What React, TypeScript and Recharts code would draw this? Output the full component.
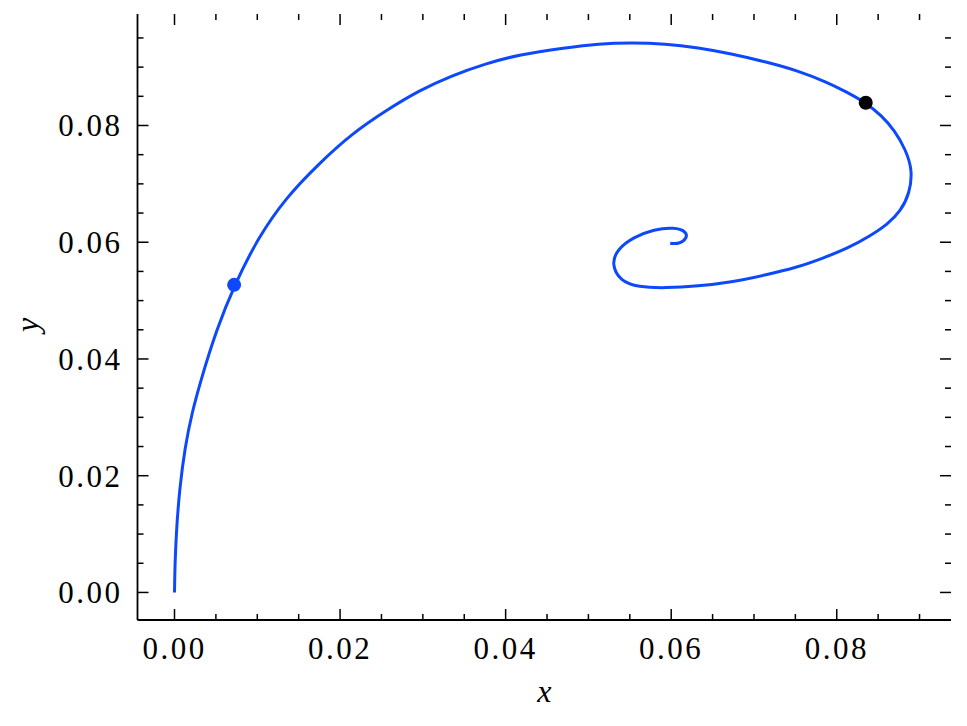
import { ComposedChart, Line, Scatter, XAxis, YAxis } from 'recharts';

// trajectory (x, y)
const curveX = [
  0, 0.00006, 0.00024, 0.0006, 0.00127, 0.00211, 0.00319, 0.00506, 0.00723, 0.01012,
  0.01349, 0.01747, 0.02145, 0.02554, 0.02952, 0.03349, 0.03759, 0.04157, 0.04723, 0.0512,
  0.05518, 0.05928, 0.06325, 0.06723, 0.07133, 0.0753, 0.07892, 0.08108, 0.08349, 0.08542,
  0.08699, 0.08831, 0.08916, 0.0888, 0.08771, 0.08614, 0.08398, 0.08133, 0.07831, 0.0753,
  0.07133, 0.06723, 0.06325, 0.05928, 0.05602, 0.05386, 0.05277, 0.05349, 0.05542, 0.05795,
  0.06036, 0.06181, 0.06193, 0.06096, 0.05988,
];
const curveY = [
  0, 0.00513, 0.01077, 0.01761, 0.02496, 0.03077, 0.03641, 0.04496, 0.05265, 0.06085,
  0.06769, 0.0735, 0.07863, 0.08256, 0.08598, 0.08855, 0.0906, 0.09214, 0.09333, 0.09402,
  0.09419, 0.09402, 0.09333, 0.09231, 0.09094, 0.0894, 0.08735, 0.08581, 0.08393, 0.08171,
  0.07915, 0.0759, 0.07231, 0.06838, 0.0653, 0.06308, 0.06103, 0.05897, 0.05726, 0.05573,
  0.05436, 0.05316, 0.05248, 0.05214, 0.05231, 0.05333, 0.05624, 0.0588, 0.06085, 0.06222,
  0.06256, 0.06188, 0.06068, 0.05966, 0.05983,
];

const blueMarker = [{ x: 0.0072, y: 0.0527 }];
const blackMarker = [{ x: 0.0835, y: 0.0839 }];

const xMajor = [0, 0.02, 0.04, 0.06, 0.08];
const xMinor = [0.005, 0.01, 0.015, 0.025, 0.03, 0.035, 0.045, 0.05, 0.055, 0.065, 0.07, 0.075, 0.085, 0.09];
const yMajor = [0, 0.02, 0.04, 0.06, 0.08];
const yMinor = [0.005, 0.01, 0.015, 0.025, 0.03, 0.035, 0.045, 0.05, 0.055, 0.065, 0.07, 0.075, 0.085, 0.09, 0.095];

const xDomain = [-0.00447, 0.0938];
const yDomain = [-0.00472, 0.0991];

const curve = curveX.map((x, i) => ({ x, y: curveY[i] }));

const BLUE = '#0d49fb';
const FONT = '"Liberation Serif", "Times New Roman", serif';
const PLOT_W = 813.5;
const PLOT_H = 606;
const MAJOR_LEN = 11;
const MINOR_LEN = 6;

const isMajor = (v: number, majors: number[]) => majors.some((m) => Math.abs(m - v) < 1e-9);

const XTick = (props: any) => {
  const { x, y, payload } = props;
  const major = isMajor(payload.value, xMajor);
  const len = major ? MAJOR_LEN : MINOR_LEN;
  return (
    <g>
      <line x1={x} x2={x} y1={y} y2={y - len} stroke="#000" strokeWidth={1.5} />
      <line x1={x} x2={x} y1={y - PLOT_H} y2={y - PLOT_H + len} stroke="#000" strokeWidth={1.5} />
      {major && (
        <text x={x} y={y + 39} textAnchor="middle" fontFamily={FONT} fontSize={31} letterSpacing={2.5} fill="#000">
          {payload.value.toFixed(2)}
        </text>
      )}
    </g>
  );
};

const YTick = (props: any) => {
  const { x, y, payload } = props;
  const major = isMajor(payload.value, yMajor);
  const len = major ? MAJOR_LEN : MINOR_LEN;
  return (
    <g>
      <line x1={x} x2={x + len} y1={y} y2={y} stroke="#000" strokeWidth={1.5} />
      <line x1={x + PLOT_W} x2={x + PLOT_W - len} y1={y} y2={y} stroke="#000" strokeWidth={1.5} />
      {major && (
        <text x={x - 15} y={y + 11} textAnchor="end" fontFamily={FONT} fontSize={31} letterSpacing={2.5} fill="#000">
          {payload.value.toFixed(2)}
        </text>
      )}
    </g>
  );
};

const Dot = (color: string) => (props: any) => <circle cx={props.cx} cy={props.cy} r={7} fill={color} />;

export default function App() {
  return (
    <div style={{ position: 'absolute', left: 0, top: 0, background: '#fff' }}>
      <ComposedChart width={967} height={726} margin={{ top: 14, right: 16, bottom: 0, left: 0 }}>
        <XAxis
          xAxisId="main"
          type="number"
          dataKey="x"
          domain={xDomain}
          ticks={[...xMajor, ...xMinor].sort((a, b) => a - b)}
          interval={0}
          height={106}
          tickSize={0}
          tickMargin={0}
          tickLine={false}
          tick={XTick}
          axisLine={{ stroke: '#000', strokeWidth: 1.8 }}
          allowDataOverflow
          label={{
            content: (p: any) => (
              <text
                x={p.viewBox.x + p.viewBox.width / 2}
                y={p.viewBox.y + 82}
                textAnchor="middle"
                fontFamily={FONT}
                fontStyle="italic"
                fontSize={32}
                fill="#000"
              >
                x
              </text>
            ),
          }}
        />
        <XAxis xAxisId="top" orientation="top" type="number" domain={xDomain} height={0} tick={false} tickLine={false} axisLine={{ stroke: '#000', strokeWidth: 1.8 }} />
        <YAxis
          yAxisId="main"
          type="number"
          dataKey="y"
          domain={yDomain}
          ticks={[...yMajor, ...yMinor].sort((a, b) => a - b)}
          interval={0}
          width={137.5}
          tickSize={0}
          tickMargin={0}
          tickLine={false}
          tick={YTick}
          axisLine={{ stroke: '#000', strokeWidth: 1.8 }}
          allowDataOverflow
          label={{
            content: (p: any) => {
              const cx = 38;
              const cy = p.viewBox.y + p.viewBox.height / 2 + 8;
              return (
                <text
                  x={cx}
                  y={cy}
                  transform={`rotate(-90 ${cx} ${cy})`}
                  textAnchor="middle"
                  fontFamily={FONT}
                  fontStyle="italic"
                  fontSize={32}
                  fill="#000"
                >
                  y
                </text>
              );
            },
          }}
        />
        <YAxis yAxisId="right" orientation="right" type="number" domain={yDomain} width={0} tick={false} tickLine={false} axisLine={{ stroke: '#000', strokeWidth: 1.8 }} />
        <Line
          xAxisId="main"
          yAxisId="main"
          data={curve}
          dataKey="y"
          type="basis"
          stroke={BLUE}
          strokeWidth={3}
          dot={false}
          activeDot={false}
          isAnimationActive={false}
        />
        <Scatter xAxisId="main" yAxisId="main" data={blueMarker} dataKey="y" shape={Dot(BLUE)} isAnimationActive={false} />
        <Scatter xAxisId="main" yAxisId="main" data={blackMarker} dataKey="y" shape={Dot('#000')} isAnimationActive={false} />
      </ComposedChart>
    </div>
  );
}
